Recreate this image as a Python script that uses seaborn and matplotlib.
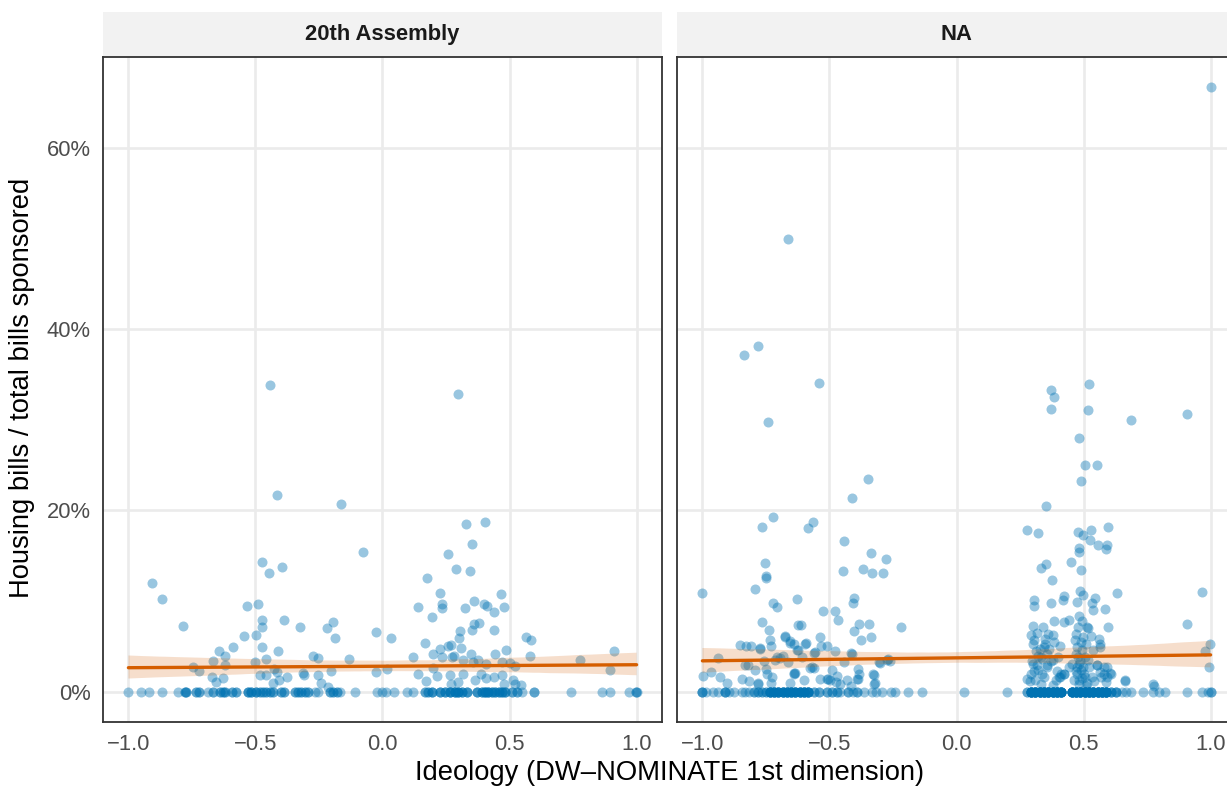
import numpy as np
import pandas as pd
import seaborn as sns
import matplotlib.pyplot as plt
from matplotlib.patches import Rectangle
from matplotlib.collections import PolyCollection
from matplotlib.ticker import FuncFormatter

panels = ["20th Assembly", "NA"]

# 20th Assembly - legislators with at least one housing bill: (ideology, % housing bills)
asm_pts = [
    (-0.442, 33.8), (0.296, 32.9), (-0.417, 21.7), (-0.164, 20.7), (0.329, 18.5), (0.404, 18.75),
    (0.354, 16.3), (-0.075, 15.4), (0.258, 15.2), (-0.473, 14.3), (-0.447, 13.1), (-0.394, 13.8),
    (0.290, 13.5), (0.346, 13.3), (0.177, 12.5), (-0.907, 12.0), (-0.868, 10.2), (0.225, 10.9),
    (0.235, 9.7), (0.236, 9.2), (0.138, 9.4), (0.359, 10.0), (0.466, 10.75), (0.401, 9.7),
    (0.413, 9.5), (0.440, 8.8), (0.479, 9.3), (0.323, 9.2), (0.193, 8.3), (0.360, 7.45),
    (0.378, 7.6), (0.351, 6.8), (0.440, 6.8), (0.306, 6.7), (0.303, 5.9), (-0.535, 9.5),
    (-0.490, 9.65), (-0.787, 7.3), (-0.473, 7.9), (-0.473, 7.15), (-0.386, 7.9), (-0.496, 6.3),
    (-0.546, 6.2), (-0.326, 7.15), (-0.220, 7.05), (-0.195, 7.7), (-0.185, 5.9), (-0.024, 6.6),
    (0.035, 5.9), (-0.588, 4.9), (-0.645, 4.5), (-0.619, 3.9), (-0.475, 4.9), (-0.459, 3.6),
    (-0.410, 4.5), (-0.669, 3.4), (-0.745, 2.75), (-0.721, 2.3), (-0.618, 2.9), (-0.502, 3.3),
    (-0.670, 1.6), (-0.656, 1.1), (-0.626, 1.5), (-0.484, 1.9), (-0.457, 1.9), (-0.427, 2.5),
    (-0.417, 2.2), (-0.430, 1.0), (-0.407, 1.3), (-0.376, 1.65), (-0.274, 4.0), (-0.255, 3.7),
    (-0.313, 2.1), (-0.310, 1.8), (-0.255, 1.9), (-0.241, 1.0), (-0.215, 0.55), (-0.203, 2.3),
    (-0.130, 3.6), (-0.026, 2.2), (0.016, 2.5), (0.122, 3.85), (0.167, 5.4), (0.140, 1.95),
    (0.171, 1.2), (0.197, 4.2), (0.200, 2.6), (0.226, 4.7), (0.235, 3.85), (0.257, 5.1),
    (0.269, 5.2), (0.274, 3.85), (0.282, 3.9), (0.307, 4.8), (0.317, 3.55), (0.347, 4.2),
    (0.355, 3.3), (0.377, 3.5), (0.406, 3.1), (0.443, 4.15), (0.486, 4.6), (0.472, 3.3),
    (0.522, 2.8), (0.503, 3.2), (0.214, 1.7), (0.264, 1.8), (0.271, 0.9), (0.296, 1.1),
    (0.317, 2.0), (0.364, 1.3), (0.386, 1.95), (0.407, 1.5), (0.439, 1.6), (0.472, 1.8),
    (0.477, 0.9), (0.514, 1.3), (0.522, 0.85), (0.546, 0.75), (0.566, 6.05), (0.583, 5.7),
    (0.581, 4.0), (0.778, 3.55), (0.897, 2.45), (0.913, 4.45),
]
# 20th Assembly - legislators with no housing bills: ideology and number stacked there
asm_zero_x = [-1.0, -0.95, -0.917, -0.867, -0.805, -0.779, -0.772, -0.733, -0.724, -0.687,
              -0.667, -0.641, -0.628, -0.621, -0.591, -0.575, -0.529, -0.516, -0.496, -0.483,
              -0.470, -0.457, -0.444, -0.431, -0.398, -0.389, -0.345, -0.332, -0.319, -0.306,
              -0.293, -0.266, -0.253, -0.207, -0.194, -0.181, -0.168, -0.108, -0.023, -0.003,
              0.014, 0.044, 0.098, 0.119, 0.168, 0.181, 0.194, 0.227, 0.247, 0.266,
              0.286, 0.299, 0.312, 0.332, 0.372, 0.391, 0.404, 0.417, 0.431, 0.444,
              0.457, 0.470, 0.483, 0.510, 0.529, 0.549, 0.595, 0.740, 0.865, 0.897,
              0.970, 0.996, 1.0]
asm_zero_n = [1, 1, 1, 1, 1, 2, 2, 2, 2, 1,
              2, 2, 2, 2, 2, 2, 3, 3, 3, 2,
              2, 2, 2, 2, 2, 2, 2, 2, 2, 2,
              2, 1, 1, 2, 2, 2, 1, 1, 1, 1,
              1, 1, 1, 1, 2, 2, 3, 3, 3, 4,
              4, 4, 3, 3, 3, 3, 4, 4, 3, 3,
              3, 3, 3, 2, 2, 1, 2, 1, 1, 1,
              1, 2, 1]

# NA session - legislators with at least one housing bill
na_pts = [
    (1.0, 66.7), (-0.663, 50.0), (-0.835, 37.2), (-0.782, 38.1), (-0.540, 34.1), (-0.741, 29.8),
    (-0.350, 23.5), (-0.413, 21.4), (0.372, 33.3), (0.383, 32.5), (0.373, 31.2), (0.522, 34.0),
    (0.516, 31.1), (0.688, 30.0), (0.909, 30.6), (0.483, 28.0), (0.506, 25.0), (0.554, 25.0),
    (0.491, 23.3), (0.354, 20.5),
    (-0.723, 19.3), (-0.766, 18.2), (-0.583, 18.1), (-0.566, 18.75), (0.276, 17.8), (0.320, 17.5),
    (0.478, 17.6), (0.497, 17.3), (0.528, 17.8), (0.596, 18.2), (0.525, 16.7), (0.555, 16.2),
    (0.593, 16.15), (0.589, 15.75), (0.484, 15.9), (0.484, 15.4), (-0.441, 16.6), (-0.337, 15.35),
    (-0.276, 14.65), (-0.754, 14.25), (-0.751, 12.75), (-0.751, 12.5), (-0.448, 13.3), (-0.368, 13.5),
    (-0.333, 13.1), (-0.291, 13.1), (0.334, 13.65), (0.352, 14.1), (0.375, 12.3), (0.450, 14.3),
    (0.490, 13.4), (-1.0, 10.9), (-0.793, 11.35), (0.966, 11.05), (-0.627, 10.2), (-0.403, 10.4),
    (0.632, 10.85), (0.304, 10.1), (0.422, 10.6), (0.420, 10.1), (0.487, 11.1), (0.499, 10.7),
    (0.544, 10.4),
    (-0.724, 9.8), (-0.705, 9.4), (-0.409, 9.8), (0.304, 9.5), (0.371, 9.8), (0.476, 9.9),
    (0.533, 9.8), (0.538, 9.05), (0.584, 9.1), (-0.527, 8.9), (-0.478, 8.9), (-0.466, 7.9),
    (-0.764, 7.7), (-0.625, 7.4), (-0.611, 7.4), (-0.736, 6.85), (-0.385, 7.5), (-0.345, 7.5),
    (-0.403, 6.7), (-0.336, 6.0), (-0.376, 5.75), (-0.218, 7.1), (0.906, 7.5), (0.302, 7.3),
    (0.341, 7.2), (0.385, 7.8), (0.424, 7.7), (0.443, 7.95), (0.483, 8.4), (0.494, 7.8),
    (0.596, 7.1), (0.513, 7.15), (0.480, 7.15), (0.518, 7.0), (0.295, 6.3), (0.315, 6.5),
    (0.359, 6.4), (0.379, 6.3), (0.306, 5.7), (0.348, 5.85), (0.406, 5.1), (0.469, 6.4),
    (0.497, 6.0), (0.528, 6.2), (0.559, 5.85), (0.566, 4.95), (0.999, 5.3), (0.977, 4.5),
    (0.992, 2.7), (-0.853, 5.2), (-0.829, 5.05), (-0.808, 5.05), (-0.773, 4.8), (-0.734, 5.75),
    (-0.731, 5.1), (-0.676, 6.2), (-0.657, 5.6), (-0.641, 5.3), (-0.597, 5.3), (-0.538, 6.0),
    (-0.509, 5.1), (-0.673, 6.05), (-0.654, 5.4), (-0.594, 5.4), (-0.535, 5.1), (0.301, 5.3),
    (0.350, 5.3), (0.385, 5.5), (0.490, 5.5), (0.465, 5.7), (0.511, 5.3), (0.563, 5.3),
    (0.476, 4.95),
    (-0.477, 4.5), (-0.557, 4.4), (-0.622, 4.6), (-0.683, 4.0), (-0.937, 3.7), (-0.832, 2.9),
    (-0.794, 2.4), (-0.751, 2.55), (-0.713, 3.5), (-0.664, 3.3), (-0.608, 3.8), (-0.569, 2.75),
    (-0.639, 2.1), (-0.538, 1.45), (-0.490, 2.4), (-0.441, 3.3), (-0.413, 4.2), (-0.389, 2.55),
    (-0.389, 1.45), (-0.429, 1.3), (-0.329, 2.0), (-0.322, 1.0), (-0.305, 3.3), (-0.273, 3.5),
    (-0.997, 1.7), (-0.965, 2.2), (-0.930, 1.6), (-0.905, 1.0), (-0.846, 1.45), (-0.815, 1.2),
    (-0.783, 1.0), (-0.731, 1.0), (-0.745, 2.0), (-0.727, 1.65), (-0.657, 1.0), (-0.636, 2.1),
    (-0.601, 1.3), (-0.497, 1.3), (-0.476, 1.1), (0.664, 1.25), (0.772, 0.85), (0.276, 1.4),
    (-0.758, 3.4), (-0.706, 3.8), (-0.693, 3.7), (-0.627, 4.6), (-0.575, 2.6), (-0.562, 2.6),
    (-0.559, 4.3), (-0.509, 1.4), (-0.470, 1.75), (-0.457, 0.85), (-0.417, 0.65), (-0.391, 1.4),
    (-0.385, 1.95), (-0.326, 0.85), (-0.323, 1.85), (-0.270, 3.6), (-0.260, 3.4), (-0.303, 3.2),
    (-0.417, 4.3), (-0.641, 2.0), (-0.505, 1.4), (-0.822, 2.9), (-0.782, 0.85), (-0.772, 4.7),
    (0.329, 4.75), (0.357, 4.2), (0.301, 3.1), (0.322, 2.4), (0.357, 2.9), (0.378, 3.5),
    (0.399, 3.85), (0.294, 2.0), (0.308, 1.3), (0.343, 1.65), (0.392, 1.3), (0.406, 1.65),
    (0.424, 2.0), (0.441, 2.75), (0.336, 3.65), (0.364, 4.75), (0.322, 4.0), (0.413, 2.0),
    (0.304, 2.3), (0.318, 3.0), (0.298, 3.4), (0.331, 3.8), (0.311, 4.5), (0.344, 4.9),
    (0.370, 3.4), (0.403, 1.6), (0.422, 1.95), (0.291, 1.2), (0.331, 0.9), (0.337, 1.95),
    (0.357, 2.7), (0.381, 0.8), (0.395, 2.3),
    (0.469, 4.2), (0.483, 3.1), (0.490, 2.4), (0.476, 2.0), (0.497, 2.75), (0.504, 1.65),
    (0.483, 1.3), (0.518, 3.5), (0.539, 4.6), (0.553, 2.9), (0.566, 2.2), (0.580, 2.75),
    (0.594, 1.65), (0.587, 1.1), (0.608, 2.0), (0.532, 1.65), (0.462, 1.3), (0.504, 3.85),
    (0.540, 1.2), (0.455, 3.1), (0.475, 2.7), (0.488, 3.4), (0.501, 1.95), (0.521, 2.7),
    (0.554, 3.0), (0.580, 1.95), (0.593, 2.7), (0.606, 2.1), (0.665, 1.2), (0.777, 0.65),
    (0.482, 0.85), (0.514, 1.0), (0.567, 1.6), (0.469, 2.3), (0.495, 4.6), (0.510, 0.6),
    (0.478, 3.8), (0.492, 1.5),
]
na_zero_x = [-1.0, -0.986, -0.958, -0.937, -0.913, -0.895, -0.874, -0.846, -0.832, -0.815,
             -0.797, -0.783, -0.765, -0.751, -0.734, -0.717, -0.701, -0.684, -0.667, -0.650,
             -0.634, -0.617, -0.600, -0.583, -0.559, -0.541, -0.510, -0.490, -0.469, -0.457,
             -0.427, -0.406, -0.392, -0.364, -0.331, -0.315, -0.294, -0.259, -0.242, -0.189,
             -0.137, 0.029, 0.199, 0.277, 0.294, 0.310, 0.327, 0.344, 0.361, 0.378,
             0.394, 0.411, 0.455, 0.471, 0.488, 0.505, 0.522, 0.538, 0.555, 0.572,
             0.589, 0.608, 0.629, 0.650, 0.668, 0.685, 0.734, 0.772, 0.797, 0.821,
             0.906, 0.965, 0.989, 1.0]
na_zero_n = [3, 1, 1, 1, 3, 1, 1, 1, 1, 1,
             2, 2, 2, 2, 6, 6, 6, 6, 6, 6,
             6, 6, 6, 6, 2, 2, 2, 2, 2, 1,
             2, 1, 2, 1, 1, 1, 1, 1, 1, 1,
             1, 1, 1, 2, 9, 9, 9, 9, 9, 9,
             9, 9, 9, 9, 9, 9, 9, 9, 9, 9,
             9, 3, 3, 1, 1, 1, 1, 1, 1, 1,
             1, 1, 1, 2]


def build(pts, zero_x, zero_n, name):
    nz = pd.DataFrame(pts, columns=["ideology", "share"])
    z = pd.DataFrame({"ideology": np.repeat(zero_x, zero_n), "share": 0.0})
    out = pd.concat([nz, z], ignore_index=True)
    out["panel"] = name
    return out


df = pd.concat([build(asm_pts, asm_zero_x, asm_zero_n, panels[0]),
                build(na_pts, na_zero_x, na_zero_n, panels[1])], ignore_index=True)

sns.set_style("white")
plt.rcParams["font.family"] = ["Liberation Sans", "DejaVu Sans"]

g = sns.lmplot(data=df, x="ideology", y="share", col="panel", col_order=panels,
               height=7.87, aspect=0.78, seed=3,
               scatter_kws=dict(s=52, alpha=0.4, color="#0072B2", linewidths=0),
               line_kws=dict(color="#D55E00", lw=2.4))
fig = g.figure
fig.set_size_inches(12.27, 7.87)
W, H = 1227, 787

ymax = df["share"].max()
ylo, yhi = -0.05 * ymax, ymax * 1.05

lefts = [103, 677]
for ax, name, left in zip(g.axes.flat, panels, lefts):
    ax.set_position([left / W, 1 - 722 / H, 559 / W, 665 / H])
    ax.set_title("")
    ax.set_xlabel("")
    ax.set_ylabel("")
    ax.set_xlim(-1.1, 1.1)
    ax.set_ylim(ylo, yhi)
    ax.set_xticks([-1.0, -0.5, 0.0, 0.5, 1.0])
    ax.set_yticks([0, 20, 40, 60])
    ax.xaxis.set_major_formatter(FuncFormatter(lambda v, p: f"{v:.1f}".replace("-", "\u2212")))
    ax.yaxis.set_major_formatter(FuncFormatter(lambda v, p: f"{v:.0f}%"))
    ax.grid(True, color="#EBEBEB", lw=1.9)
    ax.set_axisbelow(True)
    for sp in ax.spines.values():
        sp.set_visible(True)
        sp.set_color("#333333")
        sp.set_linewidth(1.3)
    ax.tick_params(direction="out", length=5, width=1.1, color="#333333",
                   labelcolor="#4D4D4D", labelsize=15.8, pad=4)
    for coll in ax.collections:
        if isinstance(coll, PolyCollection):
            coll.set_alpha(0.2)
            coll.set_edgecolor("none")
    ax.add_patch(Rectangle((0, 1), 1, 45 / 665, transform=ax.transAxes, clip_on=False,
                           facecolor="#F2F2F2", edgecolor="none"))
    ax.text(0.5, 1 + 22.5 / 665, name, transform=ax.transAxes, ha="center", va="center",
            fontsize=15.8, fontweight="bold", color="#1A1A1A")

g.axes.flat[1].tick_params(left=False, labelleft=False)

fig.text(670 / W, 1 - 773 / H, "Ideology (DW\u2013NOMINATE 1st dimension)",
         ha="center", va="center", fontsize=19.7, color="black")
fig.text(22 / W, 1 - 388 / H, "Housing bills / total bills sponsored",
         ha="center", va="center", rotation=90, fontsize=19.7, color="black")

fig.savefig("out.png", dpi=100)
